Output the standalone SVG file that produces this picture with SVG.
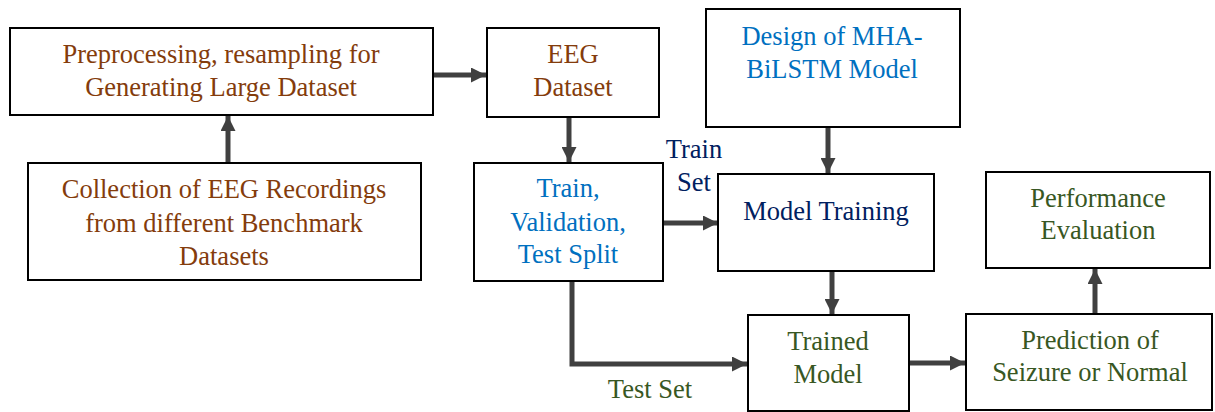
<svg xmlns="http://www.w3.org/2000/svg" width="1215" height="412" viewBox="0 0 1215 412">
<style>
.box{fill:#fff;stroke:#000;stroke-width:2}
.t{font-family:'Liberation Serif','Times New Roman',Times,serif;font-size:26.5px;text-anchor:middle}
.brown{fill:#843C0C}.blue{fill:#0070C0}.navy{fill:#002060}.green{fill:#385723}
.c{fill:none;stroke:#404040;stroke-width:5}
</style>
<defs>
<marker id="ah" viewBox="0 0 10 10" refX="10" refY="5" markerWidth="3" markerHeight="3" orient="auto" markerUnits="strokeWidth">
<path d="M0,0 L10,5 L0,10 z" fill="#404040"/>
</marker>
</defs>
<rect width="1215" height="412" fill="#fff"/>
<g id="connectors">
<line class="c" x1="433" y1="75" x2="486" y2="75" marker-end="url(#ah)"/>
<line class="c" x1="228" y1="163" x2="228" y2="116" marker-end="url(#ah)"/>
<line class="c" x1="569" y1="117" x2="569" y2="162" marker-end="url(#ah)"/>
<line class="c" x1="663" y1="223" x2="718" y2="223" marker-end="url(#ah)"/>
<line class="c" x1="828" y1="127" x2="828" y2="173" marker-end="url(#ah)"/>
<line class="c" x1="832" y1="271" x2="832" y2="314" marker-end="url(#ah)"/>
<polyline class="c" points="572,281 572,364 747,364" marker-end="url(#ah)"/>
<line class="c" x1="909" y1="363" x2="965" y2="363" marker-end="url(#ah)"/>
<line class="c" x1="1095" y1="314" x2="1095" y2="269" marker-end="url(#ah)"/>
<text class="t navy" x="694" y="158">Train</text>
<text class="t navy" x="694" y="191">Set</text>
<text class="t green" x="650" y="398">Test Set</text>
</g>
<g id="preprocessing">
<rect class="box" x="10" y="28" width="423" height="87"/>
<text class="t brown" x="221" y="63">Preprocessing, resampling for</text>
<text class="t brown" x="221" y="96">Generating Large Dataset</text>
</g>
<g id="collection">
<rect class="box" x="28" y="163" width="393" height="117"/>
<text class="t brown" x="224" y="198">Collection of EEG Recordings</text>
<text class="t brown" x="224" y="232">from different Benchmark</text>
<text class="t brown" x="224" y="265">Datasets</text>
</g>
<g id="eeg-dataset">
<rect class="box" x="487" y="28" width="172" height="89"/>
<text class="t brown" x="573" y="63">EEG</text>
<text class="t brown" x="573" y="96">Dataset</text>
</g>
<g id="design">
<rect class="box" x="706" y="9" width="254" height="118"/>
<text class="t blue" x="832" y="45">Design of MHA-</text>
<text class="t blue" x="832" y="78">BiLSTM Model</text>
</g>
<g id="split">
<rect class="box" x="474" y="163" width="189" height="118"/>
<text class="t blue" x="568" y="197">Train,</text>
<text class="t blue" x="568" y="231">Validation,</text>
<text class="t blue" x="568" y="263">Test Split</text>
</g>
<g id="model-training">
<rect class="box" x="718" y="174" width="216" height="97"/>
<text class="t navy" x="826" y="220">Model Training</text>
</g>
<g id="trained-model">
<rect class="box" x="748" y="315" width="161" height="96"/>
<text class="t green" x="828" y="350">Trained</text>
<text class="t green" x="828" y="383">Model</text>
</g>
<g id="performance">
<rect class="box" x="986" y="172" width="224" height="96"/>
<text class="t green" x="1098" y="207">Performance</text>
<text class="t green" x="1098" y="239">Evaluation</text>
</g>
<g id="prediction">
<rect class="box" x="966" y="314" width="246" height="96"/>
<text class="t green" x="1090" y="349">Prediction of</text>
<text class="t green" x="1090" y="381">Seizure or Normal</text>
</g>
</svg>
